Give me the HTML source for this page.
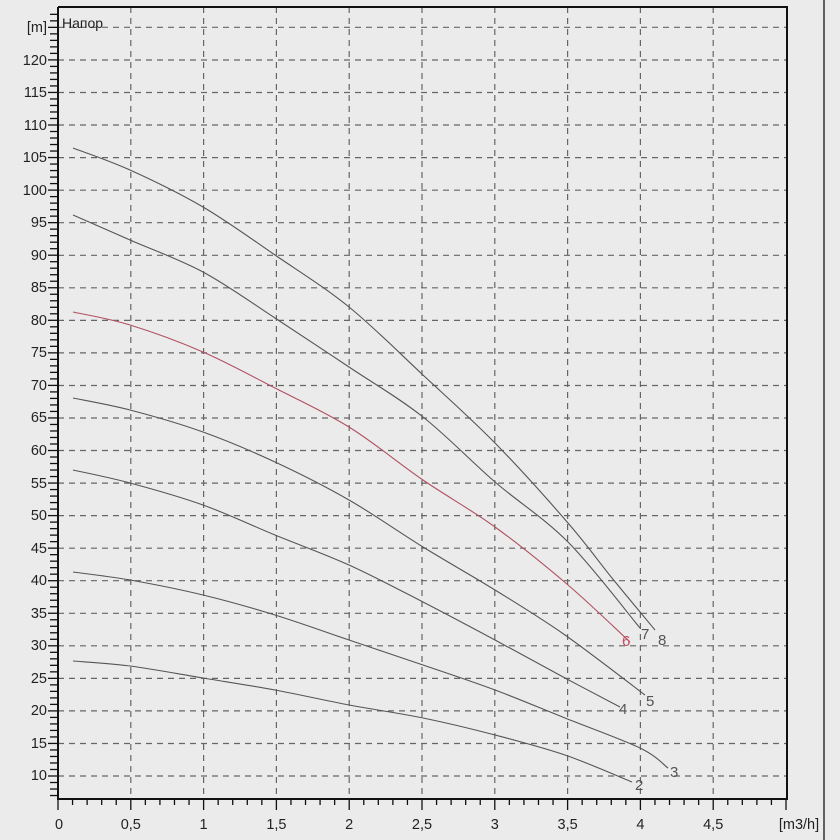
<!DOCTYPE html>
<html><head><meta charset="utf-8"><style>
html,body{margin:0;padding:0;background:#ebebeb;}
svg{display:block;font-family:"Liberation Sans",sans-serif;}
</style></head><body>
<svg id="s" width="840" height="840" viewBox="0 0 840 840" xmlns="http://www.w3.org/2000/svg">
<rect width="840" height="840" fill="#ebebeb"/>
<line x1="824" y1="0" x2="824" y2="840" stroke="#333" stroke-width="1.5"/>
<g stroke="#666" stroke-width="1.2" stroke-dasharray="6,5" fill="none">
<line x1="130.8" y1="7" x2="130.8" y2="799"/><line x1="203.6" y1="7" x2="203.6" y2="799"/>
<line x1="276.4" y1="7" x2="276.4" y2="799"/><line x1="349.2" y1="7" x2="349.2" y2="799"/>
<line x1="422" y1="7" x2="422" y2="799"/><line x1="494.8" y1="7" x2="494.8" y2="799"/>
<line x1="567.6" y1="7" x2="567.6" y2="799"/><line x1="640.4" y1="7" x2="640.4" y2="799"/>
<line x1="713.2" y1="7" x2="713.2" y2="799"/>
<line x1="58" y1="27.3" x2="787" y2="27.3"/><line x1="58" y1="60" x2="787" y2="60"/>
<line x1="58" y1="92.5" x2="787" y2="92.5"/><line x1="58" y1="125" x2="787" y2="125"/>
<line x1="58" y1="157.6" x2="787" y2="157.6"/><line x1="58" y1="190.2" x2="787" y2="190.2"/>
<line x1="58" y1="222.7" x2="787" y2="222.7"/><line x1="58" y1="255.3" x2="787" y2="255.3"/>
<line x1="58" y1="287.8" x2="787" y2="287.8"/><line x1="58" y1="320.4" x2="787" y2="320.4"/>
<line x1="58" y1="352.9" x2="787" y2="352.9"/><line x1="58" y1="385.5" x2="787" y2="385.5"/>
<line x1="58" y1="418" x2="787" y2="418"/><line x1="58" y1="450.5" x2="787" y2="450.5"/>
<line x1="58" y1="483.1" x2="787" y2="483.1"/><line x1="58" y1="515.6" x2="787" y2="515.6"/>
<line x1="58" y1="548.2" x2="787" y2="548.2"/><line x1="58" y1="580.7" x2="787" y2="580.7"/>
<line x1="58" y1="613.3" x2="787" y2="613.3"/><line x1="58" y1="645.8" x2="787" y2="645.8"/>
<line x1="58" y1="678.4" x2="787" y2="678.4"/><line x1="58" y1="710.9" x2="787" y2="710.9"/>
<line x1="58" y1="743.5" x2="787" y2="743.5"/><line x1="58" y1="776" x2="787" y2="776"/>
</g>
<polyline points="58,7 787,7 787,799 58,799 58,7" stroke="#111" stroke-width="2" fill="none"/>
<g id="yt" stroke="#111" stroke-width="1.3"></g>
<g id="xt" stroke="#111" stroke-width="1.3"></g>
<g fill="#222" font-size="14.5" text-anchor="end">
<text x="47" y="32">[m]</text><text x="47" y="65">120</text><text x="47" y="97">115</text><text x="47" y="130">110</text>
<text x="47" y="162">105</text><text x="47" y="195">100</text><text x="47" y="227">95</text><text x="47" y="260">90</text>
<text x="47" y="292">85</text><text x="47" y="325">80</text><text x="47" y="357">75</text><text x="47" y="390">70</text>
<text x="47" y="422">65</text><text x="47" y="455">60</text><text x="47" y="488">55</text><text x="47" y="520">50</text>
<text x="47" y="553">45</text><text x="47" y="585">40</text><text x="47" y="618">35</text><text x="47" y="650">30</text>
<text x="47" y="683">25</text><text x="47" y="715">20</text><text x="47" y="748">15</text><text x="47" y="780">10</text>
</g>
<g fill="#222" font-size="14.5" text-anchor="middle">
<text x="59" y="829">0</text><text x="130.8" y="829">0,5</text><text x="203.6" y="829">1</text><text x="276.4" y="829">1,5</text>
<text x="349.2" y="829">2</text><text x="422" y="829">2,5</text><text x="494.8" y="829">3</text><text x="567.6" y="829">3,5</text>
<text x="640.4" y="829">4</text><text x="713.2" y="829">4,5</text><text x="799" y="829">[m3/h]</text>
</g>
<text x="62" y="28" font-size="14" fill="#222">Напор</text>
<g id="curves" fill="none" stroke-width="1.1"></g>
<g font-size="15" fill="#555">
<text x="658" y="645">8</text><text x="641" y="639">7</text><text x="622" y="646" fill="#c05060">6</text>
<text x="646" y="706">5</text><text x="619" y="714">4</text><text x="670" y="777">3</text><text x="635" y="790">2</text>
</g>
</svg>
<script>
(function(){var ns="http://www.w3.org/2000/svg",yt=document.getElementById("yt"),xt=document.getElementById("xt");
for(var v=7;v<=127;v++){var y=776-(v-10)*6.51;if(y<8||y>798)continue;var l=document.createElementNS(ns,"line");
var major=v%5==0;l.setAttribute("x1",major?48:50);l.setAttribute("x2",58);l.setAttribute("y1",y);l.setAttribute("y2",y);yt.appendChild(l);}
for(var i=0;i<=50;i++){var x=58+14.56*i;var l=document.createElementNS(ns,"line");var major=i%5==0;
l.setAttribute("x1",x);l.setAttribute("x2",x);l.setAttribute("y1",799);l.setAttribute("y2",major?810:805);xt.appendChild(l);}
var C=[["#555",[[73,148],[130,170],[203,207],[275,255],[349,307],[423,375],[495,443],[568,523],[612,578],[655,630]]],
["#555",[[73,215],[130,240],[203,272],[275,318],[349,367],[423,417],[495,482],[568,542],[640,628]]],
["#b05060",[[73,312],[130,325],[203,352],[275,388],[349,427],[423,480],[495,527],[568,585],[630,642]]],
["#555",[[73,398],[130,410],[203,432],[275,462],[349,500],[423,547],[495,590],[565,635],[645,695]]],
["#555",[[73,470],[130,483],[203,505],[275,535],[349,565],[423,602],[495,640],[565,678],[620,707]]],
["#555",[[73,572],[130,580],[203,595],[275,615],[349,640],[423,665],[495,690],[565,718],[640,748],[668,768]]],
["#555",[[73,661],[130,666],[203,678],[275,690],[349,705],[423,718],[495,735],[565,755],[632,782]]]];
var g=document.getElementById("curves");
C.forEach(function(c){var p=c[1],d="M"+p[0][0]+","+p[0][1];
for(var i=0;i<p.length-1;i++){var p0=p[Math.max(i-1,0)],p1=p[i],p2=p[i+1],p3=p[Math.min(i+2,p.length-1)];
d+=" C"+(p1[0]+(p2[0]-p0[0])/6)+","+(p1[1]+(p2[1]-p0[1])/6)+" "+(p2[0]-(p3[0]-p1[0])/6)+","+(p2[1]-(p3[1]-p1[1])/6)+" "+p2[0]+","+p2[1];}
var e=document.createElementNS(ns,"path");e.setAttribute("d",d);e.setAttribute("stroke",c[0]);g.appendChild(e);});
})();
</script>
</body></html>
